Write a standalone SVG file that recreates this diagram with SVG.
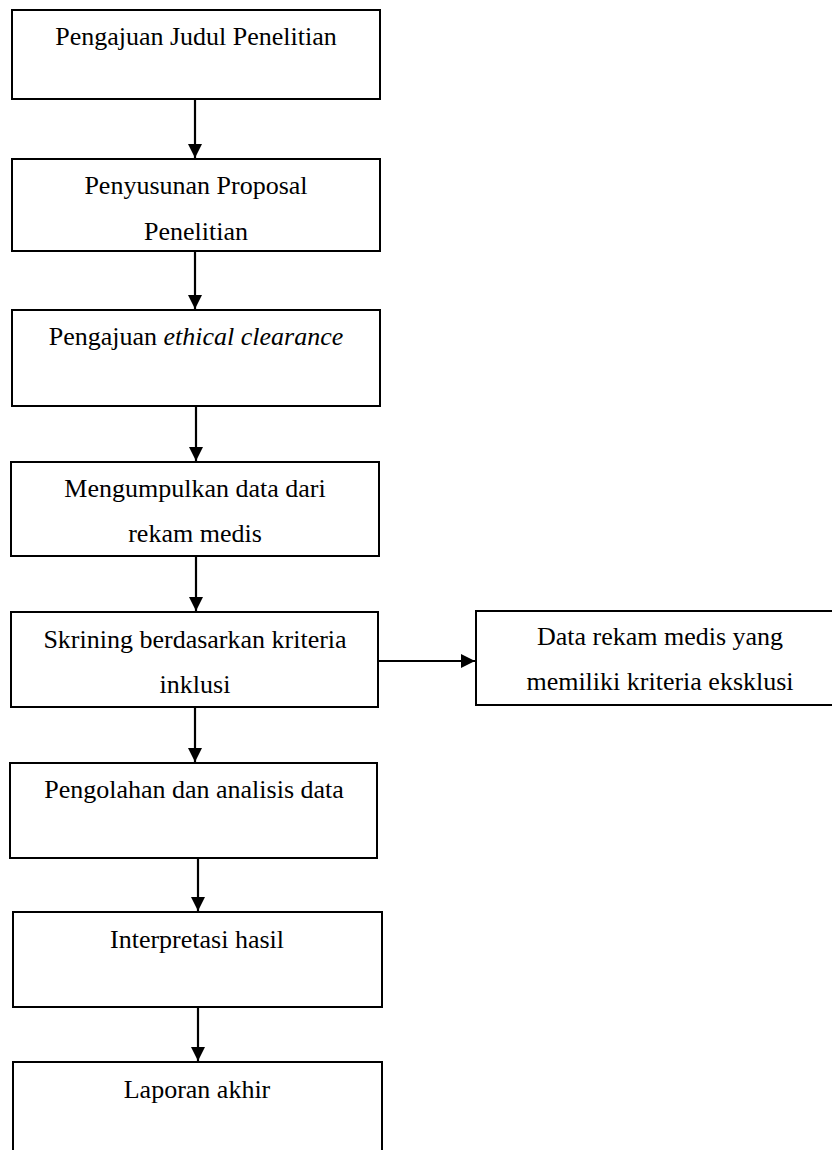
<svg xmlns="http://www.w3.org/2000/svg" width="832" height="1150" viewBox="0 0 832 1150">
<style>
.box{fill:#fff;stroke:#000;stroke-width:2}
.t{font-family:"Liberation Serif","Times New Roman",serif;font-size:26px;fill:#000;text-anchor:middle}
.c{stroke:#000;stroke-width:2.2;fill:none;marker-end:url(#ah)}
</style>
<defs>
<marker id="ah" viewBox="0 0 14 14" refX="14" refY="7" markerWidth="14" markerHeight="14" markerUnits="userSpaceOnUse" orient="auto">
<path d="M0,0 L14,7 L0,14 Z" fill="#000"/>
</marker>
</defs>
<rect width="832" height="1150" fill="#fff"/>
<g id="connectors">
<line class="c" x1="195" y1="99" x2="195" y2="158"/>
<line class="c" x1="195" y1="251" x2="195" y2="309"/>
<line class="c" x1="196" y1="406" x2="196" y2="461"/>
<line class="c" x1="196" y1="556" x2="196" y2="611"/>
<line class="c" x1="378" y1="661" x2="475" y2="661"/>
<line class="c" x1="195" y1="707" x2="195" y2="762"/>
<line class="c" x1="198" y1="858" x2="198" y2="911"/>
<line class="c" x1="198" y1="1007" x2="198" y2="1061"/>
</g>
<g id="n1"><rect class="box" x="12" y="10" width="368" height="89"/><text class="t" x="196" y="45">Pengajuan Judul Penelitian</text></g>
<g id="n2"><rect class="box" x="12" y="159" width="368" height="92"/><text class="t" x="196" y="194">Penyusunan Proposal</text><text class="t" x="196" y="240">Penelitian</text></g>
<g id="n3"><rect class="box" x="12" y="310" width="368" height="96"/><text class="t" x="196" y="345">Pengajuan <tspan font-style="italic">ethical clearance</tspan></text></g>
<g id="n4"><rect class="box" x="11" y="462" width="368" height="94"/><text class="t" x="195" y="497">Mengumpulkan data dari</text><text class="t" x="195" y="542">rekam medis</text></g>
<g id="n5"><rect class="box" x="11" y="612" width="367" height="95"/><text class="t" x="195" y="648">Skrining berdasarkan kriteria</text><text class="t" x="195" y="693">inklusi</text></g>
<g id="n6"><rect class="box" x="476" y="611" width="370" height="94"/><text class="t" x="660" y="645">Data rekam medis yang</text><text class="t" x="660" y="690">memiliki kriteria eksklusi</text></g>
<g id="n7"><rect class="box" x="10" y="763" width="367" height="95"/><text class="t" x="194" y="798">Pengolahan dan analisis data</text></g>
<g id="n8"><rect class="box" x="13" y="912" width="369" height="95"/><text class="t" x="197" y="948">Interpretasi hasil</text></g>
<g id="n9"><rect class="box" x="13" y="1062" width="369" height="100"/><text class="t" x="197" y="1098">Laporan akhir</text></g>
</svg>
